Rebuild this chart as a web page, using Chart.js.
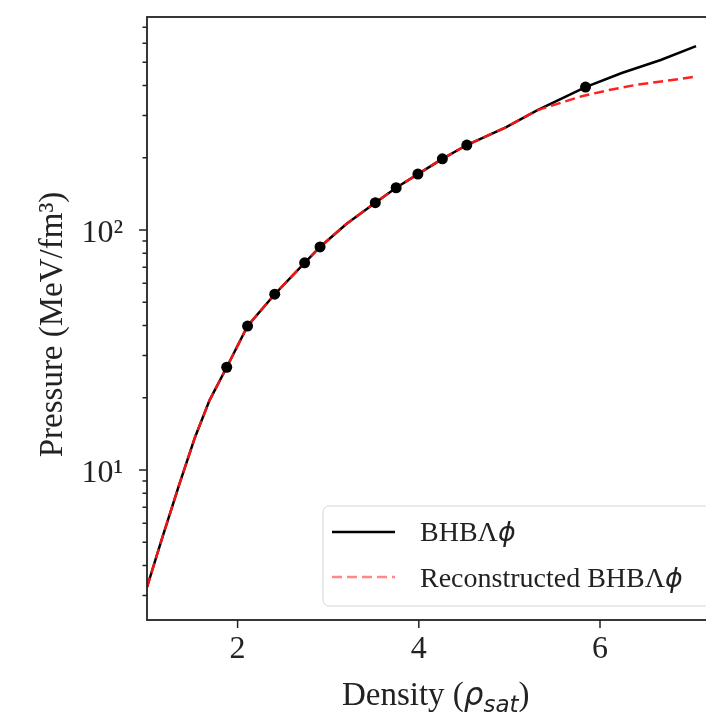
<!DOCTYPE html>
<html>
<head>
<meta charset="UTF-8">
<title>BHBΛϕ pressure vs density</title>
<script src="https://cdn.jsdelivr.net/npm/chart.js"></script>
<style>
  html, body { margin: 0; padding: 0; background: #fff; overflow: hidden; }
  canvas { display: block; }
</style>
</head>
<body>
<canvas id="eosChart" width="730" height="715"></canvas>
<script>
// BHBΛϕ equation of state (density in rho_sat, pressure in MeV/fm^3)
var bhbDensity  = [1.00, 1.16, 1.36, 1.53, 1.69, 1.88, 2.11, 2.41, 2.74, 2.91, 3.20, 3.52, 3.75, 3.99, 4.26, 4.53, 4.96, 5.31, 5.84, 6.24, 6.67, 7.06];
var bhbPressure = [3.25, 5.1,  8.8,  13.7, 19.5, 26.8, 39.8, 54,   73,   85,   106,  130,  150,  171,  198,  226,  268,  316,  394,  451,  511,  584];

// reconstructed curve
var recDensity  = [1.00, 1.16, 1.36, 1.53, 1.69, 1.88, 2.11, 2.41, 2.74, 2.91, 3.20, 3.52, 3.75, 3.99, 4.26, 4.53, 4.96, 5.31, 5.81, 6.10, 6.39, 7.03];
var recPressure = [3.25, 5.1,  8.8,  13.7, 19.5, 26.8, 39.8, 54,   73,   85,   106,  130,  150,  171,  198,  226,  268,  316,  362,  383,  402,  434];

// sampled points on the BHBΛϕ curve
var nodeDensity  = [1.88, 2.11, 2.41, 2.74, 2.91, 3.52, 3.75, 3.99, 4.26, 4.53, 5.84];
var nodePressure = [26.8, 39.8, 54,   73,   85,   130,  150,  171,  198,  226,  394];

var xTickValues = [2, 4, 6];
var yTickValues = [3, 4, 5, 6, 7, 8, 9, 10, 20, 30, 40, 50, 60, 70, 80, 90, 100, 200, 300, 400, 500, 600, 700];
var yTickLabels = { 10: '10¹', 100: '10²' };

function toPoints(xs, ys) {
    return xs.map(function (x, i) { return { x: x, y: ys[i] }; });
}

var serif = "'Liberation Serif', 'Times New Roman', serif";

// frame, tick marks, axis titles and legend box
var decorPlugin = {
    id: 'decor',
    afterDraw: function (chart) {
        var ctx = chart.ctx;
        var a = chart.chartArea;
        var xs = chart.scales.x, ys = chart.scales.y;
        ctx.save();

        ctx.strokeStyle = '#222';
        ctx.lineWidth = 1.8;
        ctx.strokeRect(a.left, a.top, a.right - a.left, a.bottom - a.top);

        ctx.lineWidth = 1.5;
        ctx.beginPath();
        xs.ticks.forEach(function (t) {
            var px = xs.getPixelForValue(t.value);
            ctx.moveTo(px, a.bottom);
            ctx.lineTo(px, a.bottom + 8);
        });
        ys.ticks.forEach(function (t) {
            var py = ys.getPixelForValue(t.value);
            var len = yTickLabels[t.value] ? 8 : 4.5;
            ctx.moveTo(a.left, py);
            ctx.lineTo(a.left - len, py);
        });
        ctx.stroke();

        // x title: Density (ρ_sat)
        ctx.fillStyle = '#222';
        ctx.textBaseline = 'alphabetic';
        ctx.textAlign = 'left';
        var parts = [
            { t: 'Density (', f: '33px ' + serif, dy: 0 },
            { t: 'ρ', f: "italic 31px 'DejaVu Sans'", dy: 0 },
            { t: 'sat', f: "italic 23px 'DejaVu Sans'", dy: 7 },
            { t: ')', f: '33px ' + serif, dy: 0 }
        ];
        var total = 0;
        parts.forEach(function (p) { ctx.font = p.f; p.w = ctx.measureText(p.t).width; total += p.w; });
        var cx = (a.left + a.right) / 2 - total / 2;
        parts.forEach(function (p) { ctx.font = p.f; ctx.fillText(p.t, cx, 705 + p.dy); cx += p.w; });

        // y title
        ctx.save();
        ctx.translate(62, (a.top + a.bottom) / 2 + 6);
        ctx.rotate(-Math.PI / 2);
        ctx.textAlign = 'center';
        ctx.font = '33px ' + serif;
        ctx.fillText('Pressure (MeV/fm³)', 0, 0);
        ctx.restore();

        // legend
        var lx = 323, ly = 506, lw = 396, lh = 100;
        ctx.beginPath();
        ctx.roundRect(lx, ly, lw, lh, 6);
        ctx.fillStyle = 'rgba(255,255,255,0.85)';
        ctx.fill();
        ctx.strokeStyle = '#d6d6d6';
        ctx.lineWidth = 1;
        ctx.stroke();

        ctx.lineWidth = 2.5;
        ctx.strokeStyle = '#000';
        ctx.beginPath();
        ctx.moveTo(332, 532); ctx.lineTo(395, 532);
        ctx.stroke();
        ctx.strokeStyle = 'rgba(255,40,40,0.55)';
        ctx.setLineDash([10, 5]);
        ctx.beginPath();
        ctx.moveTo(332, 577); ctx.lineTo(395, 577);
        ctx.stroke();
        ctx.setLineDash([]);

        ctx.fillStyle = '#222';
        var rows = [['BHBΛ', 541], ['Reconstructed BHBΛ', 587]];
        rows.forEach(function (r) {
            ctx.font = '28px ' + serif;
            ctx.fillText(r[0], 420, r[1]);
            var w = ctx.measureText(r[0]).width;
            ctx.font = "italic 27px 'DejaVu Sans'";
            ctx.fillText('ϕ', 420 + w, r[1]);
        });

        ctx.restore();
    }
};

new Chart(document.getElementById('eosChart'), {
    type: 'line',
    data: {
        datasets: [
            {
                label: 'points',
                data: toPoints(nodeDensity, nodePressure),
                showLine: false,
                pointRadius: 5.5,
                pointBackgroundColor: '#000',
                pointBorderColor: '#000',
                pointBorderWidth: 0
            },
            {
                label: 'Reconstructed BHBΛϕ',
                data: toPoints(recDensity, recPressure),
                borderColor: 'rgba(255,20,20,0.95)',
                borderWidth: 2.5,
                borderDash: [10, 5],
                pointRadius: 0,
                tension: 0,
                fill: false
            },
            {
                label: 'BHBΛϕ',
                data: toPoints(bhbDensity, bhbPressure),
                borderColor: '#000',
                borderWidth: 2.5,
                pointRadius: 0,
                tension: 0,
                fill: false
            }
        ]
    },
    options: {
        responsive: false,
        animation: false,
        layout: { padding: { top: 17, right: 3, left: 0, bottom: 0 } },
        plugins: {
            legend: { display: false },
            tooltip: { enabled: false }
        },
        scales: {
            x: {
                type: 'linear',
                min: 1,
                max: 7.374,
                grid: { display: false, drawTicks: true, tickLength: 8 },
                border: { display: false },
                afterBuildTicks: function (scale) {
                    scale.ticks = xTickValues.map(function (v) { return { value: v }; });
                },
                afterFit: function (scale) {
                    scale.height = 95;
                    scale.paddingLeft = 0;
                    scale.paddingRight = 0;
                },
                ticks: {
                    autoSkip: false,
                    maxRotation: 0,
                    padding: 2,
                    color: '#222',
                    font: { family: serif, size: 32 },
                    callback: function (v) { return String(v); }
                }
            },
            y: {
                type: 'logarithmic',
                min: 2.371,
                max: 772,
                grid: { display: false, drawTicks: true, tickLength: 8 },
                border: { display: false },
                afterBuildTicks: function (scale) {
                    scale.ticks = yTickValues.map(function (v) { return { value: v }; });
                },
                afterFit: function (scale) {
                    scale.width = 147;
                    scale.paddingTop = 0;
                    scale.paddingBottom = 0;
                },
                ticks: {
                    autoSkip: false,
                    padding: 16,
                    labelOffset: 4,
                    color: '#222',
                    font: { family: serif, size: 32 },
                    callback: function (v) { return yTickLabels[v] || ''; }
                }
            }
        }
    },
    plugins: [decorPlugin]
});
</script>
</body>
</html>
